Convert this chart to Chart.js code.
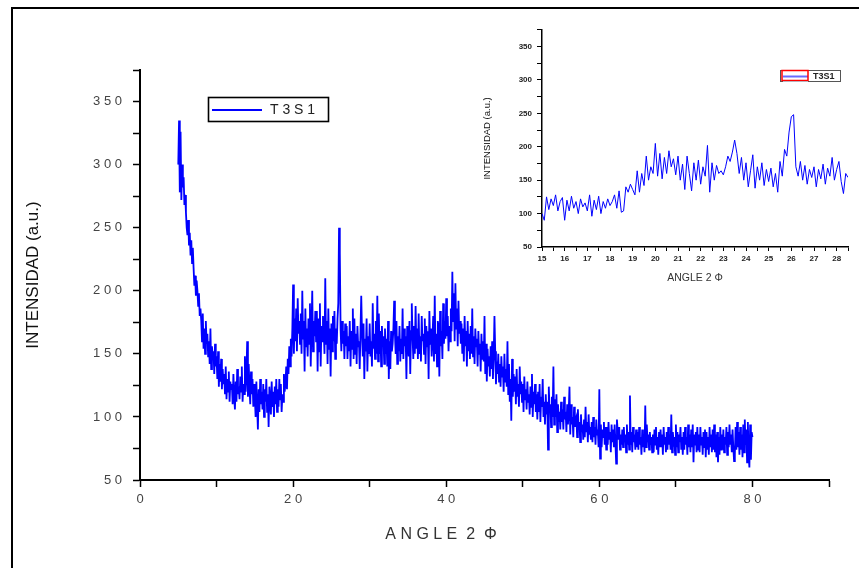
<!DOCTYPE html>
<html><head><meta charset="utf-8">
<script src="https://cdn.jsdelivr.net/npm/chart.js@4.4.0/dist/chart.umd.min.js"></script>
<style>
html,body{margin:0;padding:0;background:#fff;width:859px;height:568px;overflow:hidden}
#frame{position:absolute;left:11px;top:7px;width:900px;height:600px;border:2px solid #000;box-sizing:border-box}
#main{position:absolute;left:0;top:0}
#inset{position:absolute;left:460px;top:20px}
</style></head><body>
<div id="frame"></div>
<canvas id="main" width="859" height="568"></canvas>
<canvas id="inset" width="399" height="275"></canvas>
<script>
// ---- data ----
const seriesLabel = "T3S1";
const xTitle = "ANGLE 2 Φ";
const yTitle = "INTENSIDAD (a.u.)";

// main pattern: 2θ from 5 to 80, one value every 0.1
const mainStart = 5, mainStep = 0.1;
const mainIntensity = [
300,335,278,326,272,300,282,290,268,276,
262,250,244,256,236,246,228,240,222,234,
218,204,212,196,208,200,188,198,180,186,
176,160,182,154,170,150,176,158,166,148,
160,142,170,138,156,146,152,134,158,140,
148,130,152,124,142,128,146,122,138,126,
134,118,140,114,130,120,136,112,128,122,
126,110,134,116,106,128,112,138,118,124,
114,132,120,140,112,126,118,148,120,134,
160,116,142,124,110,136,118,130,108,126,
116,100,128,108,90,122,104,130,110,120,
106,126,100,122,112,130,104,118,92,124,
114,102,128,108,120,100,124,110,130,104,
122,108,130,114,126,104,118,112,134,120,
126,140,122,146,134,156,140,162,148,170,
205,150,178,160,186,152,194,166,176,158,
182,150,200,162,176,136,186,156,170,148,
178,158,190,140,170,200,152,176,164,184,
160,184,136,178,152,190,140,172,160,180,
168,150,210,158,176,142,186,154,170,132,
174,152,180,160,184,146,170,158,178,190,
250,230,170,152,176,158,168,146,174,156,
172,146,164,152,176,140,168,154,186,146,
178,150,166,142,172,156,160,138,168,196,
166,148,174,130,162,152,178,136,164,150,
174,148,160,140,190,154,166,146,176,150,
196,144,182,150,168,140,172,156,164,142,
170,150,162,140,176,130,160,138,168,152,
158,170,192,166,150,176,142,164,152,172,
144,162,150,186,146,170,156,164,130,172,
160,148,176,134,168,190,164,146,172,150,
188,154,170,146,182,150,164,144,180,160,
166,150,178,142,172,156,168,130,184,158,
170,148,162,180,144,196,150,166,140,176,
172,132,184,156,168,146,190,158,176,162,
194,164,180,152,172,160,186,168,215,176,
198,160,206,170,186,156,192,166,176,158,
174,150,170,144,180,156,168,140,176,152,
166,146,172,150,186,148,164,142,170,156,
162,140,168,150,158,136,166,146,160,144,
180,134,158,128,154,140,148,132,156,138,
160,130,148,180,152,126,144,134,150,128,
142,124,148,132,140,120,150,128,138,124,
160,118,142,112,130,97,146,116,134,120,
132,110,138,116,126,108,140,118,128,112,
126,104,132,114,122,106,128,112,118,102,
124,108,134,100,120,110,126,104,118,98,
120,104,126,96,116,108,130,100,112,94,
118,102,112,74,124,104,110,92,116,100,
140,94,114,100,118,88,110,96,104,90,
112,96,106,90,116,98,104,88,110,94,
104,124,86,110,94,100,84,108,92,98,
100,84,106,90,96,80,102,88,94,82,
98,84,108,88,96,80,102,86,92,82,
96,80,100,84,92,78,98,86,90,76,
122,67,94,76,90,84,96,78,92,74,
92,78,96,82,88,72,94,80,90,76,
94,80,63,98,88,82,92,74,86,78,
90,76,92,80,86,72,94,78,88,74,
117,78,88,72,92,80,86,74,90,76,
88,74,92,78,84,70,90,76,86,72,
109,76,94,80,86,74,88,78,84,72,
86,72,90,78,92,74,84,70,88,76,
90,76,86,70,92,78,84,72,88,74,
92,78,86,74,102,72,88,80,84,70,
94,76,88,72,86,80,92,74,84,70,
88,74,92,78,84,70,94,76,86,72,
90,76,94,64,86,78,88,72,92,74,
86,72,92,78,84,70,88,76,90,68,
88,74,84,70,92,76,86,72,90,74,
94,72,86,68,88,64,84,70,92,74,
86,74,90,72,84,78,92,70,88,76,
94,78,86,72,90,76,65,70,92,74,
96,76,88,70,92,74,86,68,94,72,
98,78,90,64,96,70,60,94,66,88,
84
];

// inset: 2θ from 15 to 28.5, one value every 0.1
const insetStart = 15, insetStep = 0.1;
const insetIntensity = [
100,90,125,106,122,112,128,104,118,124,
90,120,104,126,108,118,100,122,110,116,
104,128,96,120,106,126,100,118,108,122,
112,118,128,108,134,102,104,140,132,144,
136,128,164,132,160,142,186,150,170,160,
205,156,190,152,184,160,194,170,182,158,
186,150,174,136,186,160,134,176,150,180,
144,170,156,202,132,176,150,172,160,164,
158,170,186,178,192,210,190,160,184,150,
176,140,164,188,138,170,150,176,142,166,
148,168,140,160,132,178,156,196,186,222,
245,248,170,156,178,150,172,144,166,154,
170,140,166,152,174,144,168,156,184,150,
166,178,148,130,160,154
];

const mainYTicks = [50,100,150,200,250,300,350];
const mainXTicks = [0,20,40,60,80];

// ---- build ----
const toPts = (start, step, arr) => arr.map((y,i)=>({x:+(start+i*step).toFixed(2), y}));
const spaced = s => String(s).split('').join(' ');
const FONT = "'Liberation Sans', Arial, sans-serif";
const BLUE = '#0000ff';

const boxLegend = {
  id:'boxLegend',
  afterDraw(chart, args, o){
    const ctx = chart.ctx;
    ctx.save();
    if (o.kind === 'main') {
      ctx.strokeStyle = '#000'; ctx.lineWidth = 1.6;
      ctx.strokeRect(208.5, 97.5, 120, 24);
      ctx.strokeStyle = BLUE; ctx.lineWidth = 2;
      ctx.beginPath(); ctx.moveTo(212, 110); ctx.lineTo(262, 110); ctx.stroke();
      ctx.fillStyle = '#222'; ctx.font = '14px ' + FONT; ctx.textBaseline = 'middle';
      ctx.fillText(spaced(chart.data.datasets[0].label), 270, 110.5);
      // x-axis title (centred under the 0–80 data span, as in the reference)
      ctx.fillStyle = '#333'; ctx.font = '16px ' + FONT; ctx.textAlign = 'center';
      ctx.fillText('A N G L E  2  Φ', 441, 535);
    } else {
      ctx.strokeStyle = '#555'; ctx.lineWidth = 1;
      ctx.strokeRect(320.5, 50.5, 60, 11);
      ctx.strokeStyle = '#6a6aff'; ctx.lineWidth = 2;
      ctx.beginPath(); ctx.moveTo(323, 56.5); ctx.lineTo(348, 56.5); ctx.stroke();
      ctx.strokeStyle = '#a0f0ff'; ctx.lineWidth = 1;
      ctx.beginPath(); ctx.moveTo(323, 61.5); ctx.lineTo(348, 61.5); ctx.stroke();
      ctx.strokeStyle = '#ff0000'; ctx.lineWidth = 1.5;
      ctx.strokeRect(322, 50.5, 26, 10);
      ctx.fillStyle = '#222'; ctx.font = 'bold 9px ' + FONT; ctx.textBaseline = 'middle';
      ctx.fillText(chart.data.datasets[0].label, 353, 56.5);
    }
    ctx.restore();
  }
};

Chart.defaults.font.family = FONT;
Chart.defaults.animation = false;

new Chart(document.getElementById('main'), {
  type:'line',
  data:{datasets:[{label:seriesLabel, data:toPts(mainStart, mainStep, mainIntensity),
    borderColor:BLUE, borderWidth:1.8, pointRadius:0, tension:0, fill:false}]},
  options:{
    responsive:false, devicePixelRatio:1,
    layout:{padding:{left:12, top:70, right:30, bottom:0}},
    plugins:{legend:{display:false}, tooltip:{enabled:false}, boxLegend:{kind:'main'}},
    scales:{
      x:{type:'linear', min:0, max:90,
        afterFit:s=>{s.height = 88;},
        ticks:{stepSize:10, autoSkip:false, maxRotation:0, padding:5, color:'#444',
          font:{size:13}, callback:v=> mainXTicks.includes(v) ? spaced(v) : ''},
        grid:{drawOnChartArea:false, tickLength:7, color:'#000', tickWidth:1.5},
        border:{color:'#000', width:2},
        title:{display:false, text:xTitle}
      },
      y:{type:'linear', min:50, max:375,
        afterFit:s=>{s.width = 128;},
        ticks:{stepSize:25, autoSkip:false, padding:11, color:'#444',
          font:{size:13}, callback:v=> mainYTicks.includes(v) ? spaced(v) : ''},
        grid:{drawOnChartArea:false, tickLength:7, color:'#000', tickWidth:1.5},
        border:{color:'#000', width:2},
        title:{display:true, text:yTitle, color:'#111', font:{size:17}, padding:{top:11,bottom:0}}
      }
    }
  },
  plugins:[boxLegend]
});

new Chart(document.getElementById('inset'), {
  type:'line',
  data:{datasets:[{label:seriesLabel, data:toPts(insetStart, insetStep, insetIntensity),
    borderColor:BLUE, borderWidth:1, pointRadius:0, tension:0, fill:false}]},
  options:{
    responsive:false, devicePixelRatio:1,
    layout:{padding:{left:0, top:8, right:11, bottom:0}},
    plugins:{legend:{display:false}, tooltip:{enabled:false}, boxLegend:{kind:'inset'}},
    scales:{
      x:{type:'linear', min:15, max:28.5,
        afterFit:s=>{s.height = 48;},
        ticks:{stepSize:0.5, autoSkip:false, maxRotation:0, padding:3, color:'#222',
          font:{size:8, weight:'bold'}, callback:v=> Number.isInteger(v) ? String(v) : ''},
        grid:{drawOnChartArea:false, tickLength:4, color:'#000', tickWidth:1},
        border:{color:'#000', width:1.5},
        title:{display:true, text:xTitle, color:'#333', font:{size:10.5}, padding:{top:0,bottom:11}}
      },
      y:{type:'linear', min:50, max:375,
        afterFit:s=>{s.width = 82;},
        ticks:{stepSize:25, autoSkip:false, padding:5, color:'#222',
          font:{size:8, weight:'bold'}, callback:v=> v % 50 === 0 ? String(v) : ''},
        grid:{drawOnChartArea:false, tickLength:5, color:'#000', tickWidth:1},
        border:{color:'#000', width:1.5},
        title:{display:true, text:yTitle, color:'#111', font:{size:9.5}, padding:{top:22,bottom:0}}
      }
    }
  },
  plugins:[boxLegend]
});
</script>
</body></html>
